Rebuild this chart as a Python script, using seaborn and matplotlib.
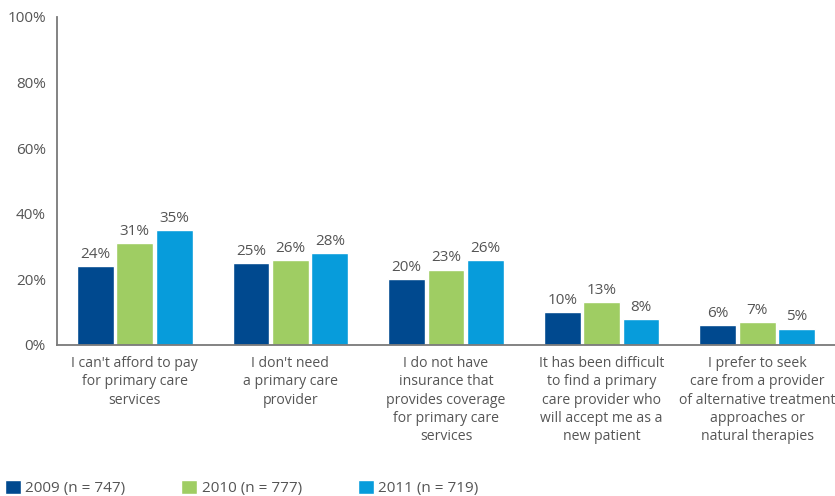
import pandas as pd
import matplotlib
matplotlib.use("Agg")
import matplotlib.pyplot as plt
import seaborn as sns

# chart data
reasons = [
    "I can't afford to pay\nfor primary care\nservices",
    "I don't need\na primary care\nprovider",
    "I do not have\ninsurance that\nprovides coverage\nfor primary care\nservices",
    "It has been difficult\nto find a primary\ncare provider who\nwill accept me as a\nnew patient",
    "I prefer to seek\ncare from a provider\nof alternative treatment\napproaches or\nnatural therapies",
]
years = ["2009 (n = 747)", "2010 (n = 777)", "2011 (n = 719)"]
pct_2009 = [24, 25, 20, 10, 6]
pct_2010 = [31, 26, 23, 13, 7]
pct_2011 = [35, 28, 26, 8, 5]
y_ticks = [0, 20, 40, 60, 80, 100]

colors = ["#00498F", "#9FCD63", "#079CDB"]
text_gray = "#555555"
axis_gray = "#7a7a7a"

# long format for seaborn
rows = []
for year, vals in zip(years, [pct_2009, pct_2010, pct_2011]):
    for reason, v in zip(reasons, vals):
        rows.append({"reason": reason, "year": year, "pct": v})
df = pd.DataFrame(rows)

sns.set_style("white")
plt.rcParams["font.family"] = ["Open Sans", "DejaVu Sans"]

fig = plt.figure(figsize=(8.35, 4.96), dpi=100)
ax = fig.add_axes([57 / 835, 151 / 496, 778 / 835, 328 / 496])

sns.barplot(data=df, x="reason", y="pct", hue="year", palette=colors,
            width=0.76, gap=0.07, saturation=1, ax=ax)

for cont in ax.containers:
    ax.bar_label(cont, fmt="%d%%", padding=3, fontsize=11, color=text_gray)

ax.set_ylim(0, 100)
ax.set_xlim(-0.5, 4.5)
ax.set_yticks(y_ticks)
ax.set_yticklabels([f"{t}%" for t in y_ticks])
ax.set_xlabel("")
ax.set_ylabel("")

ax.tick_params(axis="y", direction="in", length=5, width=1.3, color=axis_gray,
               labelsize=11, labelcolor=text_gray, pad=8)
ax.tick_params(axis="x", length=0, labelsize=10.1, labelcolor=text_gray, pad=8)
for lbl in ax.get_xticklabels():
    lbl.set_linespacing(1.3)
    lbl.set_verticalalignment("top")

for side in ["top", "right"]:
    ax.spines[side].set_visible(False)
for side in ["left", "bottom"]:
    ax.spines[side].set_color(axis_gray)
    ax.spines[side].set_linewidth(1.3)

sns.move_legend(ax, "lower left", bbox_to_anchor=(0.0, -0.01),
                bbox_transform=fig.transFigure, ncol=3, title=None,
                frameon=False, fontsize=11, handlelength=1.05,
                handleheight=1.05, handletextpad=0.3, columnspacing=3.65,
                borderaxespad=0, borderpad=0.3)
for t in ax.get_legend().get_texts():
    t.set_color(text_gray)

fig.savefig("out.png", dpi=100)
